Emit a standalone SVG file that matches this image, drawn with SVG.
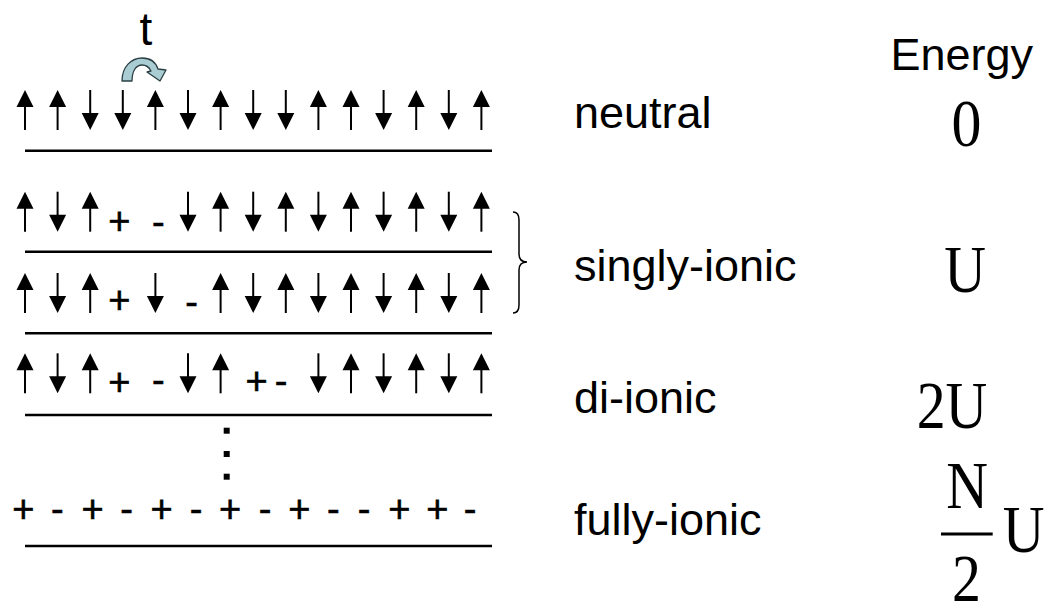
<svg xmlns="http://www.w3.org/2000/svg" xmlns:xlink="http://www.w3.org/1999/xlink" width="1047" height="607" viewBox="0 0 1047 607">
<style>
.base{stroke:#000;stroke-width:2.6;fill:none}
.sans{font-family:"Liberation Sans",Arial,sans-serif;fill:#000}
.lbl{font-size:45px}
.pm{font-size:38px;text-anchor:middle;stroke:#000;stroke-width:0.6}
.ser{font-family:"Liberation Serif","Times New Roman",serif;font-size:68px;fill:#000}
.dot{fill:#000}
</style>
<defs>
<g id="up"><path d="M0,0 L8.5,17 L-8.5,17 Z" fill="#000"/><line x1="0" y1="15" x2="0" y2="40" stroke="#000" stroke-width="2"/></g>
<g id="dn"><line x1="0" y1="0" x2="0" y2="25" stroke="#000" stroke-width="2"/><path d="M-8.5,23 L8.5,23 L0,40 Z" fill="#000"/></g>
</defs>
<rect width="1047" height="607" fill="#fff"/>

<g id="hop">
<text class="sans" x="146" y="45" font-size="46" text-anchor="middle">t</text>
<path d="M122,81 C122,66 132,58 142,58 C151,58 156,63 158,69 L166,70 L160,81 L147,72 L151,71 C149,67 146,65 142,65 C136,65 132,71 132,81 Z" fill="#a9cdd3" stroke="#2a3f44" stroke-width="1.3" stroke-linejoin="round"/>
</g>

<g id="row-neutral">
<use xlink:href="#up" x="25" y="90"/><use xlink:href="#up" x="57.6" y="90"/><use xlink:href="#dn" x="90.2" y="90"/><use xlink:href="#dn" x="122.8" y="90"/><use xlink:href="#up" x="155.4" y="90"/><use xlink:href="#dn" x="188" y="90"/><use xlink:href="#up" x="220.6" y="90"/><use xlink:href="#dn" x="253.2" y="90"/><use xlink:href="#dn" x="285.8" y="90"/><use xlink:href="#up" x="318.4" y="90"/><use xlink:href="#up" x="351" y="90"/><use xlink:href="#dn" x="383.6" y="90"/><use xlink:href="#up" x="416.2" y="90"/><use xlink:href="#dn" x="448.8" y="90"/><use xlink:href="#up" x="481.4" y="90"/>
<line class="base" x1="25" y1="150.7" x2="492" y2="150.7"/>
</g>

<g id="row-single-a">
<use xlink:href="#up" x="25" y="191.7"/><use xlink:href="#dn" x="57.6" y="191.7"/><use xlink:href="#up" x="90.2" y="191.7"/>
<text class="sans pm" x="119.4" y="234">+</text><text class="sans pm" x="158.3" y="234.5">-</text>
<use xlink:href="#dn" x="188" y="191.7"/><use xlink:href="#up" x="220.6" y="191.7"/><use xlink:href="#dn" x="253.2" y="191.7"/><use xlink:href="#up" x="285.8" y="191.7"/><use xlink:href="#dn" x="318.4" y="191.7"/><use xlink:href="#up" x="351" y="191.7"/><use xlink:href="#dn" x="383.6" y="191.7"/><use xlink:href="#up" x="416.2" y="191.7"/><use xlink:href="#dn" x="448.8" y="191.7"/><use xlink:href="#up" x="481.4" y="191.7"/>
<line class="base" x1="25" y1="251.7" x2="492" y2="251.7"/>
</g>

<g id="row-single-b">
<use xlink:href="#up" x="25" y="273"/><use xlink:href="#dn" x="57.6" y="273"/><use xlink:href="#up" x="90.2" y="273"/>
<text class="sans pm" x="119.4" y="312.8">+</text>
<use xlink:href="#dn" x="155.4" y="273"/>
<text class="sans pm" x="191.7" y="315">-</text>
<use xlink:href="#up" x="220.6" y="273"/><use xlink:href="#dn" x="253.2" y="273"/><use xlink:href="#up" x="285.8" y="273"/><use xlink:href="#dn" x="318.4" y="273"/><use xlink:href="#up" x="351" y="273"/><use xlink:href="#dn" x="383.6" y="273"/><use xlink:href="#up" x="416.2" y="273"/><use xlink:href="#dn" x="448.8" y="273"/><use xlink:href="#up" x="481.4" y="273"/>
<line class="base" x1="25" y1="333.3" x2="492" y2="333.3"/>
</g>

<g id="brace">
<path d="M513,212 Q519,212 519,220 L519,254 Q519,262 527,262 Q519,262 519,270 L519,305 Q519,313 513,313" fill="none" stroke="#000" stroke-width="1.5"/>
</g>

<g id="row-di">
<use xlink:href="#up" x="25" y="353.3"/><use xlink:href="#dn" x="57.6" y="353.3"/><use xlink:href="#up" x="90.2" y="353.3"/>
<text class="sans pm" x="119.4" y="395.3">+</text><text class="sans pm" x="158.3" y="392.5">-</text>
<use xlink:href="#dn" x="188" y="353.3"/><use xlink:href="#up" x="220.6" y="353.3"/>
<text class="sans pm" x="256.7" y="394.4">+</text><text class="sans pm" x="281" y="394.1">-</text>
<use xlink:href="#dn" x="318.4" y="353.3"/><use xlink:href="#up" x="351" y="353.3"/><use xlink:href="#dn" x="383.6" y="353.3"/><use xlink:href="#up" x="416.2" y="353.3"/><use xlink:href="#dn" x="448.8" y="353.3"/><use xlink:href="#up" x="481.4" y="353.3"/>
<line class="base" x1="25" y1="415" x2="492" y2="415"/>
</g>

<g id="ellipsis">
<rect class="dot" x="223.7" y="427.7" width="6" height="6"/>
<rect class="dot" x="223.7" y="451" width="6" height="6"/>
<rect class="dot" x="223.7" y="473.7" width="6" height="6"/>
</g>

<g id="row-full">
<text class="sans pm" x="23.3" y="522.3">+</text><text class="sans pm" x="57.3" y="522.3">-</text><text class="sans pm" x="92.7" y="522.3">+</text><text class="sans pm" x="126.7" y="522.3">-</text><text class="sans pm" x="161.7" y="522.3">+</text><text class="sans pm" x="196" y="522.3">-</text><text class="sans pm" x="230" y="522.3">+</text><text class="sans pm" x="265" y="522.3">-</text><text class="sans pm" x="299.3" y="522.3">+</text><text class="sans pm" x="333.3" y="522.3">-</text><text class="sans pm" x="364" y="522.3">-</text><text class="sans pm" x="399.3" y="522.3">+</text><text class="sans pm" x="437.3" y="522.3">+</text><text class="sans pm" x="470" y="522.3">-</text>
<line class="base" x1="25" y1="546" x2="492" y2="546"/>
</g>

<g id="labels">
<text class="sans lbl" x="574" y="128.3">neutral</text>
<text class="sans lbl" x="574" y="281">singly-ionic</text>
<text class="sans lbl" x="574" y="413">di-ionic</text>
<text class="sans lbl" x="574" y="535">fully-ionic</text>
</g>

<g id="energies">
<text class="sans lbl" x="1033" y="70" text-anchor="end">Energy</text>
<text class="ser" transform="translate(966.5,146) scale(0.88,1)" text-anchor="middle">0</text>
<text class="ser" transform="translate(965,292) scale(0.85,1)" text-anchor="middle">U</text>
<text class="ser" transform="translate(952,428) scale(0.85,1)" text-anchor="middle">2U</text>
<text class="ser" transform="translate(967,508) scale(0.85,1)" text-anchor="middle">N</text>
<line x1="941" y1="534" x2="992.7" y2="534" stroke="#000" stroke-width="3"/>
<text class="ser" transform="translate(966.5,601) scale(0.85,1)" text-anchor="middle">2</text>
<text class="ser" transform="translate(1023.5,551.7) scale(0.85,1)" text-anchor="middle">U</text>
</g>
</svg>
